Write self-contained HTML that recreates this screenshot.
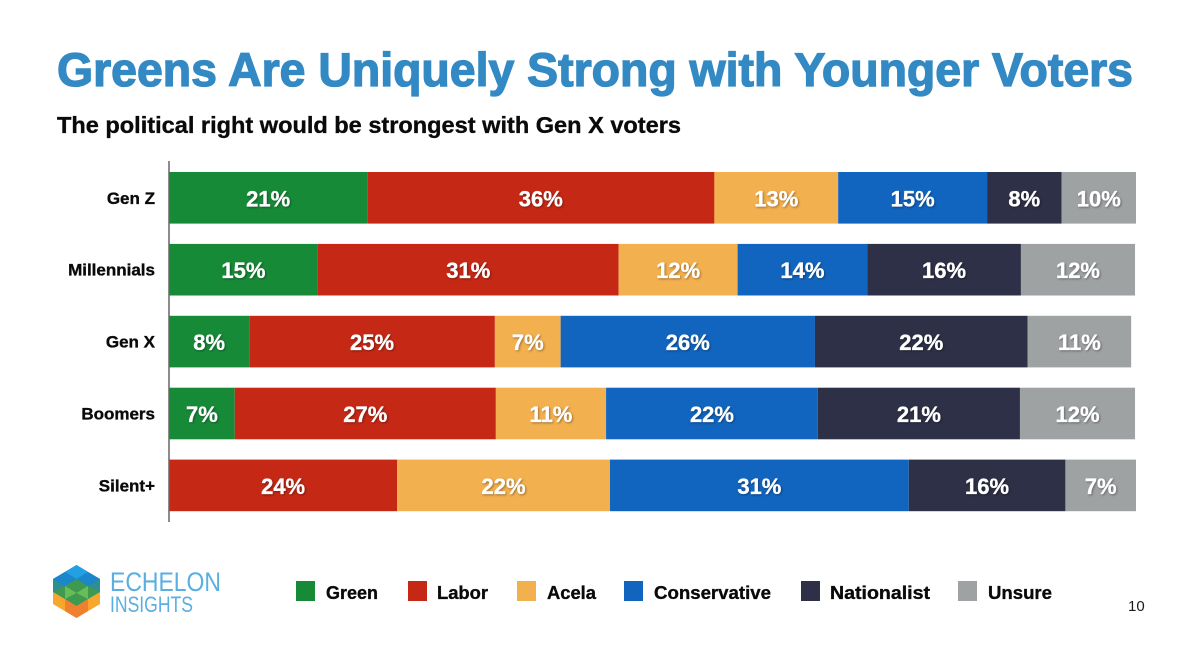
<!DOCTYPE html>
<html lang="en">
<head>
<meta charset="utf-8">
<title>Greens Are Uniquely Strong with Younger Voters</title>
<style>
html,body{margin:0;padding:0;background:#fff;}
svg{display:block;font-family:"Liberation Sans",sans-serif;}
.pct{filter:drop-shadow(1px 1px 1px rgba(0,0,0,.35));stroke:#fff;stroke-width:.35px;}
.heavy{stroke:#0a0a0a;stroke-width:.35px;}
</style>
</head>
<body>
<svg id="chart" width="1200" height="666" viewBox="0 0 1200 666" xmlns="http://www.w3.org/2000/svg">
  <rect x="0" y="0" width="1200" height="666" fill="#fff"/>
  <text x="57" y="86" font-size="47" font-weight="700" fill="#3389c3" stroke="#3389c3" stroke-width="1.3" textLength="1076" lengthAdjust="spacingAndGlyphs">Greens Are Uniquely Strong with Younger Voters</text>
  <text class="heavy" x="57" y="133" font-size="23" font-weight="700" fill="#0a0a0a" textLength="624" lengthAdjust="spacingAndGlyphs">The political right would be strongest with Gen X voters</text>

  <g id="bars"></g>
  <g id="cats"></g>
  <line x1="169" y1="161" x2="169" y2="522" stroke="#666" stroke-width="1.5"/>

  <g id="legend">
    <rect x="296" y="581" width="19" height="20" fill="#178a38"/>
    <text class="heavy" x="326" y="599" font-size="18.5" font-weight="700" fill="#0a0a0a" textLength="52" lengthAdjust="spacingAndGlyphs">Green</text>
    <rect x="408" y="581" width="19" height="20" fill="#c62816"/>
    <text class="heavy" x="437" y="599" font-size="18.5" font-weight="700" fill="#0a0a0a" textLength="51" lengthAdjust="spacingAndGlyphs">Labor</text>
    <rect x="517" y="581" width="19" height="20" fill="#f3b04f"/>
    <text class="heavy" x="547" y="599" font-size="18.5" font-weight="700" fill="#0a0a0a" textLength="49" lengthAdjust="spacingAndGlyphs">Acela</text>
    <rect x="624" y="581" width="19" height="20" fill="#1265bf"/>
    <text class="heavy" x="654" y="599" font-size="18.5" font-weight="700" fill="#0a0a0a" textLength="117" lengthAdjust="spacingAndGlyphs">Conservative</text>
    <rect x="801" y="581" width="19" height="20" fill="#2e3047"/>
    <text class="heavy" x="830" y="599" font-size="18.5" font-weight="700" fill="#0a0a0a" textLength="100" lengthAdjust="spacingAndGlyphs">Nationalist</text>
    <rect x="958" y="581" width="19" height="20" fill="#9fa2a3"/>
    <text class="heavy" x="988" y="599" font-size="18.5" font-weight="700" fill="#0a0a0a" textLength="64" lengthAdjust="spacingAndGlyphs">Unsure</text>
  </g>

  <g>
    <polygon points="76.5,565 100,579 100,592 76.5,606 53,592 53,579" fill="#1a80c4"/>
    <polygon points="76.5,565 88,572 76.5,579 65,572" fill="#239fe3"/>
    <polygon points="65,572 76.5,579 65,586 53,579" fill="#1b86c9"/>
    <polygon points="88,572 100,579 88,586 76.5,579" fill="#1b86c9"/>
    <polygon points="53,579 65,586 53,593" fill="#2f8f8f"/>
    <polygon points="100,579 88,586 100,593" fill="#2f8f8f"/>
    <polygon points="53,592 76.5,606 100,592 100,604 76.5,618 53,604" fill="#f6a72c"/>
    <polygon points="65,599 76.5,606 88,599 88,611 76.5,618 65,611" fill="#f08030"/>
    <polygon points="76.5,579 88,586 100,592 88,599 76.5,606 65,599 53,592 65,586" fill="#3f9a50"/>
    <polygon points="65,586 76.5,593 88,586 88,599 76.5,593 65,599" fill="#69bd58"/>
    <text x="110" y="591" font-size="27" fill="#5aaee0" textLength="111" lengthAdjust="spacingAndGlyphs">ECHELON</text>
    <text x="110" y="612" font-size="22" fill="#5aaee0" textLength="83" lengthAdjust="spacingAndGlyphs">INSIGHTS</text>
  </g>

  <text x="1128" y="611" font-size="15" fill="#1a1a1a">10</text>
</svg>
<script>
const categories = ["Gen Z", "Millennials", "Gen X", "Boomers", "Silent+"];
const seriesNames = ["Green", "Labor", "Acela", "Conservative", "Nationalist", "Unsure"];
const green = [20.5, 15.4, 8.3, 6.8, 0];
const labor = [35.9, 31.1, 25.4, 27.0, 23.6];
const acela = [12.8, 12.3, 6.8, 11.4, 22.0];
const conservative = [15.4, 13.4, 26.3, 21.9, 30.9];
const nationalist = [7.7, 15.9, 22.0, 20.9, 16.2];
const unsure = [7.7, 11.8, 10.7, 11.9, 7.3];
const greenLabels = ["21%", "15%", "8%", "7%", ""];
const laborLabels = ["36%", "31%", "25%", "27%", "24%"];
const acelaLabels = ["13%", "12%", "7%", "11%", "22%"];
const conservativeLabels = ["15%", "14%", "26%", "22%", "31%"];
const nationalistLabels = ["8%", "16%", "22%", "21%", "16%"];
const unsureLabels = ["10%", "12%", "11%", "12%", "7%"];

const seriesValues = [green, labor, acela, conservative, nationalist, unsure];
const seriesLabels = [greenLabels, laborLabels, acelaLabels, conservativeLabels, nationalistLabels, unsureLabels];
const seriesColors = ["#178a38", "#c62816", "#f3b04f", "#1265bf", "#2e3047", "#9fa2a3"];

const NS = "http://www.w3.org/2000/svg";
const barsGroup = document.getElementById("bars");
const catsGroup = document.getElementById("cats");

function xScale(v) { return 169 + v * 9.67; }
function yBand(i) { return 172 + i * 71.9; }
const bandHeight = 51.6;

categories.forEach(function (cat, i) {
  const slug = cat.toLowerCase().replace(/[^a-z]+/g, "-").replace(/-$/, "");
  const y = yBand(i);

  const catText = document.createElementNS(NS, "text");
  
  
  catText.setAttribute("class", "heavy");
  catText.setAttribute("x", 155);
  catText.setAttribute("y", y + bandHeight / 2 + 6);
  catText.setAttribute("text-anchor", "end");
  catText.setAttribute("font-size", "17");
  catText.setAttribute("font-weight", "700");
  catText.setAttribute("fill", "#0a0a0a");
  catText.textContent = cat;
  catsGroup.appendChild(catText);

  let cum = 0;
  seriesValues.forEach(function (vals, s) {
    const v = vals[i];
    const x0 = xScale(cum);
    const x1 = xScale(cum + v);
    cum += v;
    if (v <= 0) { return; }
    const sSlug = seriesNames[s].toLowerCase();

    const rect = document.createElementNS(NS, "rect");
    
    
    rect.setAttribute("x", x0);
    rect.setAttribute("y", y);
    rect.setAttribute("width", x1 - x0);
    rect.setAttribute("height", bandHeight);
    rect.setAttribute("fill", seriesColors[s]);
    barsGroup.appendChild(rect);

    const label = document.createElementNS(NS, "text");
    
    
    label.setAttribute("class", "pct");
    label.setAttribute("x", (x0 + x1) / 2);
    label.setAttribute("y", y + bandHeight / 2 + 8.5);
    label.setAttribute("text-anchor", "middle");
    label.setAttribute("font-size", "22");
    label.setAttribute("font-weight", "700");
    label.setAttribute("fill", "#fff");
    label.textContent = seriesLabels[s][i];
    barsGroup.appendChild(label);
  });
});
</script>
</body>
</html>
